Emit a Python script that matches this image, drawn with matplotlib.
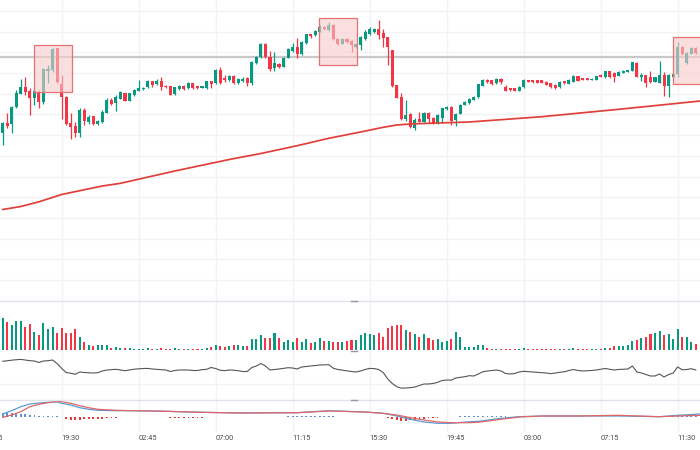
import numpy as np
import matplotlib
matplotlib.use("Agg")
import matplotlib.pyplot as plt
from matplotlib.patches import Rectangle
from matplotlib.lines import Line2D
import matplotlib.transforms as mtransforms

# ---------------- data (15-minute candles) ----------------
opens = [167,177,176,193,206,213,209,202,208,198,
         229,230,252,216,203,177,174,167,190,178,
         184,176,178,187,200,197,201,207,199,205,
         209,211,213,219,216,219,214,214,206,211,
         214,212,217,214,212,212,219,217,230,222,
         220,224,217,219,222,217,237,243,256,243,
         232,236,233,242,249,253,246,257,266,265,
         268,273,270,275,261,256,261,259,253,255,
         261,266,268,271,267,263,250,215,203,181,
         186,172,181,178,187,182,177,182,191,193,
         180,186,195,197,200,203,214,220,220,217,
         221,213,212,212,209,213,220,220,220,220,
         218,217,215,213,219,216,218,224,222,222,
         220,220,225,223,229,227,224,227,228,229,
         237,223,225,223,218,217,225,214,223,226,
         253,237,246,252]
closes = [177,174,193,207,213,208,202,209,198,231,
          231,251,218,203,176,173,167,190,179,183,
          176,179,188,200,196,203,208,199,207,210,
          212,212,219,215,219,213,213,205,213,214,
          211,217,212,212,214,219,216,230,217,220,
          224,217,221,221,217,238,243,256,243,231,
          237,233,242,251,253,246,258,266,264,269,
          273,271,275,261,256,261,258,255,256,263,
          268,271,271,265,262,253,214,202,181,185,
          173,180,178,187,181,177,185,192,193,179,
          186,195,198,201,203,216,220,218,216,221,
          218,209,210,209,213,220,218,218,217,217,
          215,213,212,218,217,220,224,219,220,220,
          221,224,223,229,223,223,228,229,230,238,
          223,225,217,218,223,225,214,225,226,253,
          246,247,252,247]
highs = [178,187,194,210,221,223,212,212,210,232,
         235,252,252,225,204,187,178,192,192,185,
         184,180,190,202,202,205,209,207,207,211,
         220,213,220,219,221,223,215,214,213,215,
         215,218,217,214,214,219,219,231,233,225,
         225,225,222,223,223,239,244,257,257,249,
         248,237,243,252,257,262,259,266,266,270,
         275,274,278,276,262,262,262,260,257,264,
         270,273,272,280,271,263,250,215,207,200,
         187,182,188,188,188,183,186,192,194,194,
         187,196,199,202,204,216,221,221,220,222,
         222,215,212,212,214,221,220,220,220,220,
         219,217,216,219,219,221,225,224,222,222,
         222,224,226,229,229,228,229,230,230,238,
         238,227,225,229,223,239,228,226,227,258,
         254,248,253,253]
lows = [155,172,167,192,206,205,185,195,192,196,
        217,228,217,181,175,161,163,163,175,176,
        175,175,177,187,195,189,201,199,199,204,
        209,210,212,213,215,210,212,205,205,210,
        210,211,211,211,212,211,212,216,216,218,
        219,216,216,218,214,215,236,242,242,229,
        229,232,233,242,248,242,245,256,262,264,
        268,270,269,260,255,256,257,248,252,250,
        260,265,267,261,253,235,213,202,180,179,
        172,170,178,178,177,176,176,178,190,175,
        174,186,195,196,200,202,214,217,215,216,
        216,209,209,209,209,212,218,217,217,217,
        215,212,211,212,216,216,218,219,220,220,
        220,220,223,222,222,218,224,227,228,229,
        223,219,213,217,218,217,204,203,222,223,
        245,236,246,246]
volume = [32,28,25,29,29,23,26,18,15,27,
          21,23,17,22,17,17,21,13,8,5,
          4,5,5,5,2,3,2,2,2,1.5,
          1.5,1.5,2,1.5,1.5,2,1.5,1.5,2,1.5,
          1.5,1.5,1.5,1.5,1.5,2,3,5,4.3,3.3,
          4,5,5,4,4,10.7,10.7,15,12.3,12.3,
          16.7,12.3,8.3,10,8.3,11.7,8.3,10.7,6.7,8.3,
          12.3,9,9,8.3,8.3,8.3,9.3,10,10,15,
          16.7,16,15,16.7,13.3,21.7,24.3,25,25,20,
          18.3,15.7,12.7,15.7,11.7,10,10.7,8.3,9,11,
          18.3,12.7,3,3,2.7,5,5,1.7,1,1,
          1,1.5,1.5,1.5,1.5,2,1.5,1.5,1.5,1.5,
          1.5,1.5,1.5,1.5,1.5,1.5,2,1.5,1.5,1.5,
          1.5,1.5,1.5,2,2,4,4,4,5,9.3,
          10,11.7,13.3,16,16.7,19.3,15,15.7,11,20.7,
          13.3,13.3,8.3,6]
osc = [38.7,39.3,39.8,40.3,40.6,40,39.3,39,37.5,39,
       39.3,40,36.5,31.7,27.5,26.8,25.7,28,27.5,27.2,
       27,27.3,29,30,30.3,30.7,30,29.3,30,30.8,
       31.2,31.5,31.6,31,30.7,30.3,30,28.5,29.5,30,
       30,30,29.5,29.5,30.3,30.7,32.5,31.5,29.8,29.3,
       30,29.8,29.3,28.5,28.5,32.5,34,36.5,34,30,
       30.5,31,31.7,32.3,32,31,33,33.5,34,34.5,
       35,35.2,35.3,31.7,30.5,29.8,29,28.5,28,29,
       30.5,31.6,31.4,30.5,27.5,21,16.5,13.3,11.8,12,
       12.3,13,14.5,16,16,16.5,17.7,19.5,20,19.8,
       22,22.7,23.3,24.3,24,26,28.3,29,29.5,30,
       29,26.5,26,26.5,28,28.7,28.3,28,27.7,27.4,
       27,26.3,27,27.7,28.2,29.5,30.5,29.5,29,29.2,
       29.5,30,30.7,31.5,30.7,30,30.6,30.7,31,34,
       28,27,25.5,24,24,26,23,25.5,27,33,
       30.3,30.5,31.3,30]
ma_idx = [1,5,9,14,18,23,27,39,51,58,66,73,80,85,88,91,95,104,120,137,155]
ma_val = [90.5,93.5,98.2,105.5,109.3,114,116.7,129,140.5,146.5,154.3,161.7,
          168,172.7,175,176,176.7,178,183.3,190.7,199]
macd_idx = [1,3,5,7,9,11,13,14,16,18,20,22,26,30,37,45,53,66,73,81,85,88,
            91,94,97,100,104,106,111,115,120,128,137,146,150,155]
macd_line = [3,6.3,10.3,13,14,14.7,15,13.7,12,9.3,7.7,6.7,6.3,6.3,5.7,4.7,4,
             4.3,6.3,5,3.7,1,-2.3,-5,-6.3,-6.3,-4.7,-4.3,-1.3,0.3,1,1,1,0.3,1.7,3]
signal_line = [-0.3,2,5.3,10.3,12.7,14.3,15.7,15.3,13.7,11.3,9.3,7.7,6.7,6.3,5.7,
               4.7,4,4.3,6,5,3.7,2,-0.7,-3,-5,-5.7,-5.7,-5.3,-2.3,0,1,1,1.7,0.3,1,1.7]
hist = ([4,4.5,4.5,4,3.5,3,2.5,2,1.5,1.5,1,1,0.8] + [0] +
        [-2,-2.5,-2.5,-2.5,-2.3,-2,-2,-1.8,-1.5,-1.2,-1,-0.8] + [0]*11 +
        [-0.5]*8 + [0]*11 + [0.5]*5 + [0]*2 + [0.7]*11 + [0]*2 + [0.3]*5 +
        [0]*4 + [-1,-2,-3,-3.5,-3.5,-3,-2.5,-2,-1.5,-1,-0.7,-0.5] + [0] +
        [0.5,0.5,0.5,0.6,0.7,0.8,0.9,1,1,1,1,0.8,0.7,0.6,0.5] + [0.3]*33 +
        [0.6,0.7,0.8,1,1.2,1.2,1.2,1.2])
level = 243
box_start = [7.9, 70.9, 148.9]
box_end = [16.3, 79.2, 158]
box_low = [208, 235, 216]
box_high = [255, 282, 263]
tick_idx = [-3, 14, 31, 48, 65, 82, 99, 116, 133, 150]
tick_labels = ["15:15", "19:30", "02:45", "07:00", "11:15", "15:30",
               "19:45", "03:00", "07:15", "11:30"]

# ---------------- styling ----------------
GREEN = "#089981"
RED = "#f23645"
GRID = "#f3f3f5"
SEP = "#e0e3eb"
n = len(opens)
x = np.arange(1, n + 1)
o = np.array(opens, float); c = np.array(closes, float)
h = np.array(highs, float); l = np.array(lows, float)
up = c >= o
cols = np.where(up, GREEN, RED)

W, H = 700, 450
fig = plt.figure(figsize=(7, 4.5), dpi=100)
fig.patch.set_facecolor("white")

def add_ax(top, bottom):
    return fig.add_axes([0, 1 - bottom / H, 1, (bottom - top) / H])

ax = add_ax(0, 301)
axv = add_ax(301, 350)
axo = add_ax(350, 400)
axm = add_ax(400, 432)
XL = (0.404, 154.93)
for a in (ax, axv, axo, axm):
    a.set_xlim(*XL)
    a.axis("off")
    for t in tick_idx:
        a.axvline(t, color=GRID, lw=1.0, zorder=0)

# main panel
ax.set_ylim(-1, 300)
for yv in np.arange(289, 0, -20.7):
    ax.axhline(yv, color=GRID, lw=1.0, zorder=0)
ax.axhline(level, color="#c8c8c8", lw=1.6, zorder=1)
ax.vlines(x, l, h, colors=cols, lw=0.9, zorder=2)
body_h = np.maximum(np.abs(c - o), 0.9)
ax.bar(x, body_h, bottom=np.minimum(o, c), width=0.68, color=cols, lw=0, zorder=3)
ax.plot(ma_idx, ma_val, color="#e0403a", lw=1.25, zorder=4)
for s, e, lo, hi in zip(box_start, box_end, box_low, box_high):
    ax.add_patch(Rectangle((s, lo), e - s, hi - lo, facecolor="#f8cbcb", alpha=0.6,
                           edgecolor="none", zorder=5))
    ax.add_patch(Rectangle((s, lo), e - s, hi - lo, facecolor="none",
                           edgecolor="#e57373", lw=0.9, zorder=6))

# volume
axv.set_ylim(0, 49)
axv.bar(x, volume, width=0.45, color=cols, lw=0, zorder=2)

# oscillator
axo.set_ylim(0, 50)
axo.axhline(16, color=GRID, lw=1.0, zorder=0)
axo.plot(x, osc, color="#555555", lw=0.8, zorder=2)

# MACD
axm.set_ylim(-15, 17)
hist_a = np.array(hist, float)
hcols = np.where(hist_a >= 0, "#5b8fd6", "#e53935")
axm.bar(x, hist_a, width=0.4, color=hcols, lw=0, zorder=2)
axm.plot(macd_idx, macd_line, color="#5b9bd5", lw=0.9, zorder=3)
axm.plot(macd_idx, signal_line, color="#e06666", lw=0.9, zorder=3)

# separators and handles
for yy in (301, 399.5):
    fig.add_artist(Line2D([0, 1], [1 - yy / H] * 2, color=SEP, lw=1.0))
for yy in (301, 350.5, 399.5):
    fig.add_artist(Line2D([351 / W, 357 / W], [1 - yy / H] * 2, color="#9598a1", lw=1.0))

# time labels
tr = mtransforms.blended_transform_factory(axm.transData, fig.transFigure)
for t, lab in zip(tick_idx, tick_labels):
    axm.text(t, 1 - 439 / H, lab, transform=tr, ha="left", va="center",
             fontsize=5.3, color="#4a4a4a", clip_on=False, family="Roboto")

fig.savefig("out.png", dpi=100, facecolor="white")
